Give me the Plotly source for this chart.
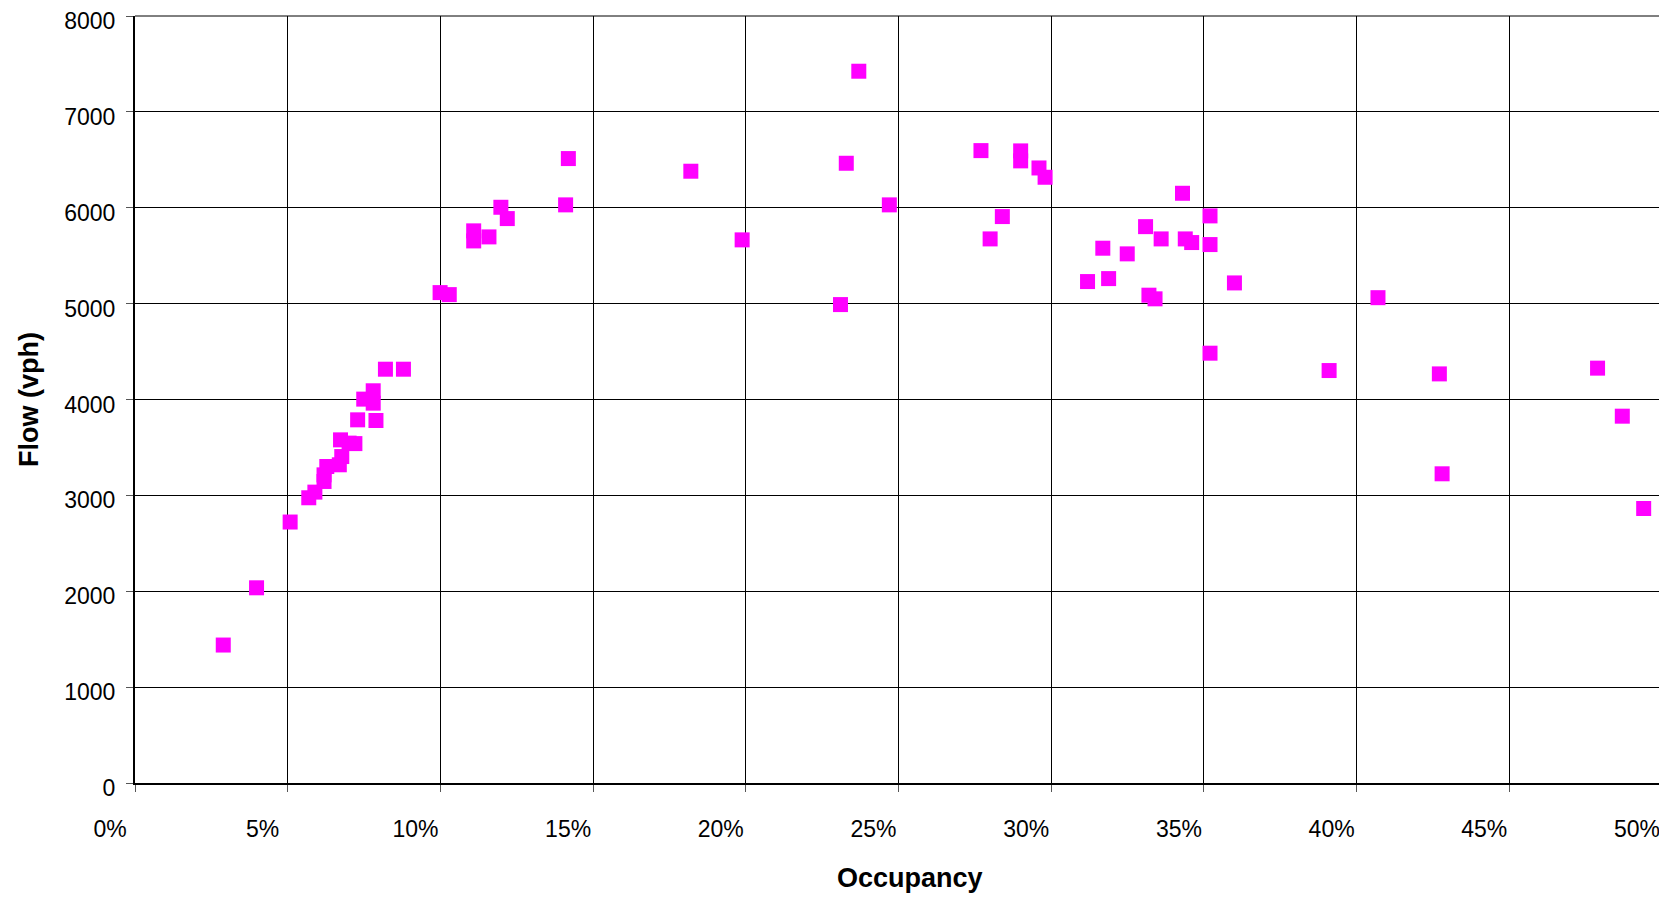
import plotly.graph_objects as go

# Occupancy (%) and Flow (vph)
occupancy_pct = [
    2.89, 3.98, 5.08, 5.69, 5.89, 6.19, 6.19, 6.28, 6.69, 6.77, 6.73, 7.01, 7.20,
    7.29, 7.49, 7.80, 7.80, 7.89, 8.20, 8.79,
    9.99, 10.29, 11.09, 11.09, 11.59, 11.98, 12.19, 14.10, 14.19, 18.20, 19.88,
    23.10, 23.29, 23.70, 24.70, 27.70, 28.00, 28.40, 29.00, 29.00, 29.60, 29.80,
    31.19, 31.69, 31.88, 32.49, 33.09, 33.20, 33.40, 33.60, 34.30, 34.39, 34.60,
    35.20, 35.20, 35.20, 36.00, 39.10, 40.70, 42.71, 42.80, 47.89, 48.70, 49.40,
]
flow_vph = [
    1439, 2036, 2722, 2975, 3034, 3145, 3214, 3301, 3319, 3405, 3579, 3545, 3540,
    3788, 4004, 4091, 3962, 3781, 4316, 4316,
    5115, 5094, 5759, 5654, 5696, 6005, 5887, 6030, 6513, 6381, 5665,
    4990, 6464, 7424, 6030, 6596, 5675, 5908, 6593, 6489, 6415, 6318,
    5230, 5578, 5261, 5519, 5803, 5088, 5050, 5675, 6151, 5675, 5637,
    5915, 5616, 4483, 5216, 4302, 5062, 4267, 3225, 4327, 3826, 2863,
]

x_ticks = [i / 100 for i in range(0, 51, 5)]
y_ticks = list(range(0, 8001, 1000))

occupancy = [v / 100 for v in occupancy_pct]

FONT = "Liberation Sans, Arial, sans-serif"

fig = go.Figure()
fig.add_trace(go.Scatter(
    x=occupancy, y=flow_vph, mode="markers",
    marker=dict(symbol="square", size=15, color="#FF00FF", line=dict(width=0)),
    showlegend=False, cliponaxis=False,
))

fig.update_layout(
    width=1659, height=891,
    margin=dict(l=127, r=5, t=8, b=116, autoexpand=False),
    paper_bgcolor="white", plot_bgcolor="white",
    font=dict(family=FONT, size=23, color="black"),
    xaxis=dict(
        range=[0, 0.5], tickvals=x_ticks, tickformat=".0%",
        showgrid=True, gridcolor="black", gridwidth=1,
        showline=True, linecolor="black", linewidth=2,
        ticks="outside", ticklen=7, tickcolor="#555", tickwidth=1,
        ticklabelstandoff=17, ticklabelshift=-25,
        zeroline=False, automargin=False,
    ),
    yaxis=dict(
        range=[0, 8000], tickvals=y_ticks,
        showgrid=True, gridcolor="black", gridwidth=1,
        showline=True, linecolor="black", linewidth=2,
        ticks="outside", ticklen=7, tickcolor="#555", tickwidth=1,
        ticklabelstandoff=6, ticklabelshift=5, ticklabeloverflow="allow",
        zeroline=False, automargin=False,
        title=dict(text="<b>Flow (vph)</b>", font=dict(family=FONT, size=27), standoff=18),
    ),
    annotations=[
        dict(text="<b>Occupancy</b>", xref="paper", yref="paper", x=0.5075, y=0,
             xanchor="center", yanchor="middle", yshift=-95, showarrow=False,
             font=dict(family=FONT, size=27, color="black")),
    ],
    shapes=[
        dict(type="line", xref="paper", yref="paper", x0=0, x1=1, y0=1, y1=1,
             line=dict(color="black", width=1)),
        dict(type="line", xref="paper", yref="paper", x0=1, x1=1, y0=0, y1=1,
             line=dict(color="black", width=1)),
    ],
)

fig.write_html("out.html")
